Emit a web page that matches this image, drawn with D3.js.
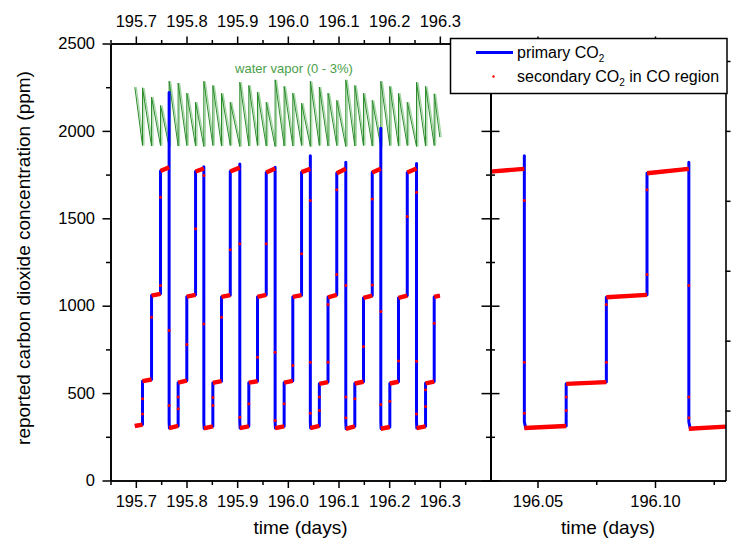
<!DOCTYPE html>
<html>
<head>
<meta charset="utf-8">
<script src="https://cdn.jsdelivr.net/npm/d3@7"></script>
<style>
  html, body { margin: 0; padding: 0; background: #fff; }
  svg { display: block; font-family: "Liberation Sans", Arial, Helvetica, sans-serif; }
</style>
</head>
<body>
<svg id="chart" width="732" height="547"></svg>
<script>
// ---- calibration cycle: boundaries between concentration plateaus (day of year)
const stepTimes = [
  195.6980, 195.7132, 195.7310, 195.7487,
  195.7657, 195.7835, 195.8006, 195.8179,
  195.8342, 195.8520, 195.8691, 195.8864,
  195.9052, 195.9230, 195.9401, 195.9574,
  195.9749, 195.9927, 196.0098, 196.0271,
  196.0444, 196.0622, 196.0793, 196.0966,
  196.1144, 196.1322, 196.1493, 196.1666,
  196.1835, 196.2013, 196.2184, 196.2357,
  196.2540, 196.2718, 196.2889, 196.3000
];
// primary CO2 at the start and end of each plateau (ppm)
const levelStart = [
  312, 568, 1058, 1770,
  300, 560, 1052, 1768,
  298, 558, 1050, 1768,
  300, 560, 1050, 1762,
  300, 560, 1050, 1764,
  300, 553, 1048, 1758,
  296, 555, 1045, 1762,
  296, 555, 1045, 1762,
  300, 556, 1050
];
const levelEnd = [
  320, 578, 1068, 1792,
  312, 572, 1062, 1785,
  310, 568, 1060, 1790,
  310, 568, 1062, 1785,
  310, 570, 1060, 1783,
  312, 563, 1062, 1783,
  310, 565, 1058, 1783,
  306, 565, 1058, 1785,
  310, 566, 1058
];
// overshoot when the high standard is switched off
const dropTimes = [195.7657, 195.8342, 195.9052, 195.9749, 196.0444, 196.1144, 196.1835, 196.2540];
const dropPeaks = [2220, 1795, 1810, 1792, 1858, 1821, 2015, 1814];
const dropSettle = 335;

// secondary CO2 samples caught on the transitions
const transitTimes = [
  195.7132, 195.7132, 195.7310, 195.7487, 195.7487,
  195.7657, 195.7657, 195.7835, 195.7835, 195.8006, 195.8179,
  195.8342, 195.8342, 195.8520, 195.8520, 195.8691, 195.8864,
  195.9052, 195.9052, 195.9230, 195.9401, 195.9574,
  195.9749, 195.9749, 195.9927, 196.0098, 196.0271,
  196.0444, 196.0444, 196.0444, 196.0622, 196.0622, 196.0793, 196.0793, 196.0966, 196.0966,
  196.1144, 196.1144, 196.1144, 196.1322, 196.1493, 196.1666, 196.1666,
  196.1835, 196.1835, 196.2013, 196.2184, 196.2357,
  196.2540, 196.2540, 196.2540, 196.2718, 196.2718, 196.2889
];
const transitValues = [
  467, 381, 934, 1621, 1116,
  858, 429, 410, 477, 778, 1440,
  896, 1745, 429, 475, 934, 1320,
  1354, 362, 439, 705, 1354,
  734, 343, 439, 658, 1297,
  1602, 677, 385, 477, 400, 1007, 677, 1663, 1178,
  1116, 477, 359, 467, 767, 1611, 1119,
  967, 435, 454, 683, 1510,
  1649, 682, 381, 519, 423, 900
];

// water vapour (%): rise at each switch, decay until the next one
const vaporTimes = stepTimes;
const vaporPeaks = [
  2.63, 2.60, 2.20, 1.84,
  2.88, 2.80, 2.37, 1.98,
  2.88, 2.70, 2.37, 1.98,
  2.84, 2.70, 2.42, 1.98,
  2.94, 2.66, 2.37, 1.94,
  2.88, 2.63, 2.37, 2.06,
  2.94, 2.70, 2.37, 2.06,
  2.88, 2.66, 2.37, 1.98,
  2.84, 2.66, 2.34
];
const vaporTroughs = [
  0.12, 0.10, 0.12, 0.08,
  0.10, 0.12, 0.10, 0.08,
  0.12, 0.10, 0.12, 0.08,
  0.10, 0.12, 0.10, 0.08,
  0.10, 0.10, 0.12, 0.08,
  0.12, 0.10, 0.12, 0.08,
  0.10, 0.12, 0.10, 0.08,
  0.12, 0.10, 0.12, 0.08,
  0.10, 0.12, 0.48
];

// axis ticks
const yMajor = [0, 500, 1000, 1500, 2000, 2500];
const yMinor = [250, 750, 1250, 1750, 2250];
const yRightPanelTicks = [400, 800, 1200, 1600, 2000, 2400];
const xMajorLeft = [195.7, 195.8, 195.9, 196.0, 196.1, 196.2, 196.3];
const xMinorLeft = [195.65, 195.75, 195.85, 195.95, 196.05, 196.15, 196.25, 196.35];
const xMajorRight = [196.05, 196.10];
const xMinorRight = [196.075, 196.125];

// ---- layout
const svg = d3.select("#chart");
const plotTop = 43.5, plotBottom = 480.5;
const leftX0 = 110.5, divX = 490.5, rightX1 = 725.5;

const y = d3.scaleLinear().domain([0, 2500]).range([plotBottom, plotTop]);
const xL = d3.scaleLinear().domain([195.65, 196.40]).range([leftX0, divX]);
const xR = d3.scaleLinear().domain([196.03, 196.13]).range([divX, rightX1]);
const vaporY = d3.scaleLinear().domain([0, 3]).range([y(1900), y(2300)]);

const BLUE = "#0000ff", RED = "#ff0000";
const tickFont = 16.5;

// primary CO2 trace as a polyline through the plateau ends and switch overshoots
const primary = [];
for (let i = 0; i < levelStart.length; i++) {
  const t0 = stepTimes[i], t1 = stepTimes[i + 1];
  const k = dropTimes.indexOf(t0);
  if (k >= 0) {
    primary.push([t0, dropPeaks[k]], [t0, dropSettle], [t0 + 0.0006, levelStart[i]]);
  } else {
    primary.push([t0, levelStart[i]]);
  }
  primary.push([t1, levelEnd[i]]);
}
const secondaryPlateaus = levelStart.map((v, i) => [[stepTimes[i], v], [stepTimes[i + 1], levelEnd[i]]]);
const secondaryTransit = transitTimes.map((t, i) => [t, transitValues[i]]);

// water vapour trace
const vapor = [[vaporTimes[0], vaporPeaks[0]]];
for (let i = 0; i < vaporPeaks.length; i++) {
  if (i > 0) vapor.push([vaporTimes[i], vaporPeaks[i]]);
  vapor.push([vaporTimes[i + 1], vaporTroughs[i]]);
}

const defs = svg.append("defs");
defs.append("clipPath").attr("id", "clipL").append("rect")
  .attr("x", leftX0).attr("y", plotTop).attr("width", divX - leftX0).attr("height", plotBottom - plotTop);
defs.append("clipPath").attr("id", "clipR").append("rect")
  .attr("x", divX).attr("y", plotTop).attr("width", rightX1 - divX).attr("height", plotBottom - plotTop);

function drawPanel(x, clipId, withVapor) {
  const g = svg.append("g").attr("clip-path", `url(#${clipId})`);
  if (withVapor) {
    const vLine = d3.line().x(d => x(d[0])).y(d => vaporY(d[1]));
    g.append("path").datum(vapor).attr("d", vLine)
      .attr("fill", "none").attr("stroke", "#a3d6a3").attr("stroke-width", 1.3)
      .attr("transform", "translate(1.4,0)");
    g.append("path").datum(vapor).attr("d", vLine)
      .attr("fill", "none").attr("stroke", "#2a8a2a").attr("stroke-width", 1);
  }
  const line = d3.line().x(d => x(d[0])).y(d => y(d[1]));
  g.append("path").datum(primary).attr("d", line)
    .attr("fill", "none").attr("stroke", BLUE).attr("stroke-width", 3)
    .attr("stroke-linejoin", "round");
  g.selectAll("path.sec").data(secondaryPlateaus).join("path").attr("class", "sec")
    .attr("d", line).attr("fill", "none").attr("stroke", RED).attr("stroke-width", 4.4);
  g.selectAll("circle.tr").data(secondaryTransit).join("circle").attr("class", "tr")
    .attr("cx", d => x(d[0])).attr("cy", d => y(d[1])).attr("r", 1.5).attr("fill", RED);
}
drawPanel(xL, "clipL", true);
drawPanel(xR, "clipR", false);

// vapour label
svg.append("text").attr("x", 294).attr("y", 72.5).attr("text-anchor", "middle")
  .attr("font-size", 13).attr("fill", "#4aa04a").text("water vapor (0 - 3%)");

// ---- axes
function styleAxis(sel) {
  sel.selectAll(".domain").attr("stroke", "#000").attr("stroke-width", 1.6);
  sel.selectAll(".tick line").attr("stroke", "#000").attr("stroke-width", 1.5);
  sel.selectAll(".tick text").attr("fill", "#000").attr("font-size", tickFont)
    .attr("font-family", "Liberation Sans, Arial, sans-serif");
  return sel;
}
const fmt0 = d3.format("d"), fmt1 = d3.format(".1f"), fmt2 = d3.format(".2f");

// left panel: left axis
styleAxis(svg.append("g").attr("transform", `translate(${leftX0},0)`)
  .call(d3.axisLeft(y).tickValues(yMinor).tickSize(4.5).tickSizeOuter(0).tickFormat("")));
styleAxis(svg.append("g").attr("transform", `translate(${leftX0},0)`)
  .call(d3.axisLeft(y).tickValues(yMajor).tickSize(8).tickSizeOuter(0).tickPadding(7.5).tickFormat(fmt0)));

// left panel: bottom and top axes
styleAxis(svg.append("g").attr("transform", `translate(0,${plotBottom})`)
  .call(d3.axisBottom(xL).tickValues(xMinorLeft).tickSize(4.5).tickSizeOuter(0).tickFormat("")));
styleAxis(svg.append("g").attr("transform", `translate(0,${plotBottom})`)
  .call(d3.axisBottom(xL).tickValues(xMajorLeft).tickSize(7.5).tickSizeOuter(0).tickPadding(7).tickFormat(fmt1)));
styleAxis(svg.append("g").attr("transform", `translate(0,${plotTop})`)
  .call(d3.axisTop(xL).tickValues(xMinorLeft).tickSize(3.5).tickSizeOuter(0).tickFormat("")));
styleAxis(svg.append("g").attr("transform", `translate(0,${plotTop})`)
  .call(d3.axisTop(xL).tickValues(xMajorLeft).tickSize(7).tickSizeOuter(0).tickPadding(9.5).tickFormat(fmt1)));

// shared divider between panels, ticked on both sides
[d3.axisLeft, d3.axisRight].forEach(ax => {
  styleAxis(svg.append("g").attr("transform", `translate(${divX},0)`)
    .call(ax(y).tickValues(yMinor).tickSize(4.5).tickSizeOuter(0).tickFormat("")));
  styleAxis(svg.append("g").attr("transform", `translate(${divX},0)`)
    .call(ax(y).tickValues(yMajor).tickSize(9).tickSizeOuter(0).tickFormat("")));
});

// right panel: bottom, top and right axes
styleAxis(svg.append("g").attr("transform", `translate(0,${plotBottom})`)
  .call(d3.axisBottom(xR).tickValues(xMinorRight).tickSize(4.5).tickSizeOuter(0).tickFormat("")));
styleAxis(svg.append("g").attr("transform", `translate(0,${plotBottom})`)
  .call(d3.axisBottom(xR).tickValues(xMajorRight).tickSize(7.5).tickSizeOuter(0).tickPadding(7).tickFormat(fmt2)));
styleAxis(svg.append("g").attr("transform", `translate(0,${plotTop})`)
  .call(d3.axisTop(xR).tickValues(xMinorRight).tickSize(3.5).tickSizeOuter(0).tickFormat("")));
styleAxis(svg.append("g").attr("transform", `translate(0,${plotTop})`)
  .call(d3.axisTop(xR).tickValues(xMajorRight).tickSize(7).tickSizeOuter(0).tickFormat("")));
styleAxis(svg.append("g").attr("transform", `translate(${rightX1},0)`)
  .call(d3.axisRight(y).tickValues(yRightPanelTicks).tickSize(5).tickSizeOuter(0).tickFormat("")));

// axis titles
svg.append("text").attr("transform", "translate(30,258) rotate(-90)")
  .attr("text-anchor", "middle").attr("font-size", 19).attr("fill", "#000")
  .text("reported carbon dioxide concentration (ppm)");
svg.append("text").attr("x", (leftX0 + divX) / 2).attr("y", 534).attr("text-anchor", "middle")
  .attr("font-size", 19).attr("fill", "#000").text("time (days)");
svg.append("text").attr("x", (divX + rightX1) / 2).attr("y", 534).attr("text-anchor", "middle")
  .attr("font-size", 19).attr("fill", "#000").text("time (days)");

// ---- legend
const lg = svg.append("g");
lg.append("rect").attr("x", 450.5).attr("y", 38.5).attr("width", 276.5).attr("height", 55)
  .attr("fill", "#fff").attr("stroke", "#000").attr("stroke-width", 1.5);
lg.append("line").attr("x1", 476).attr("x2", 513).attr("y1", 52.5).attr("y2", 52.5)
  .attr("stroke", BLUE).attr("stroke-width", 2.8);
lg.append("circle").attr("cx", 493.5).attr("cy", 76.5).attr("r", 1.2).attr("fill", RED);
const t1 = lg.append("text").attr("x", 517).attr("y", 58).attr("font-size", 16).attr("fill", "#000");
t1.append("tspan").text("primary CO");
t1.append("tspan").attr("font-size", 10).attr("dy", 4).text("2");
const t2 = lg.append("text").attr("x", 517).attr("y", 82).attr("font-size", 16).attr("fill", "#000");
t2.append("tspan").text("secondary CO");
t2.append("tspan").attr("font-size", 10).attr("dy", 4).text("2");
t2.append("tspan").attr("dy", -4).text(" in CO region");
</script>
</body>
</html>
